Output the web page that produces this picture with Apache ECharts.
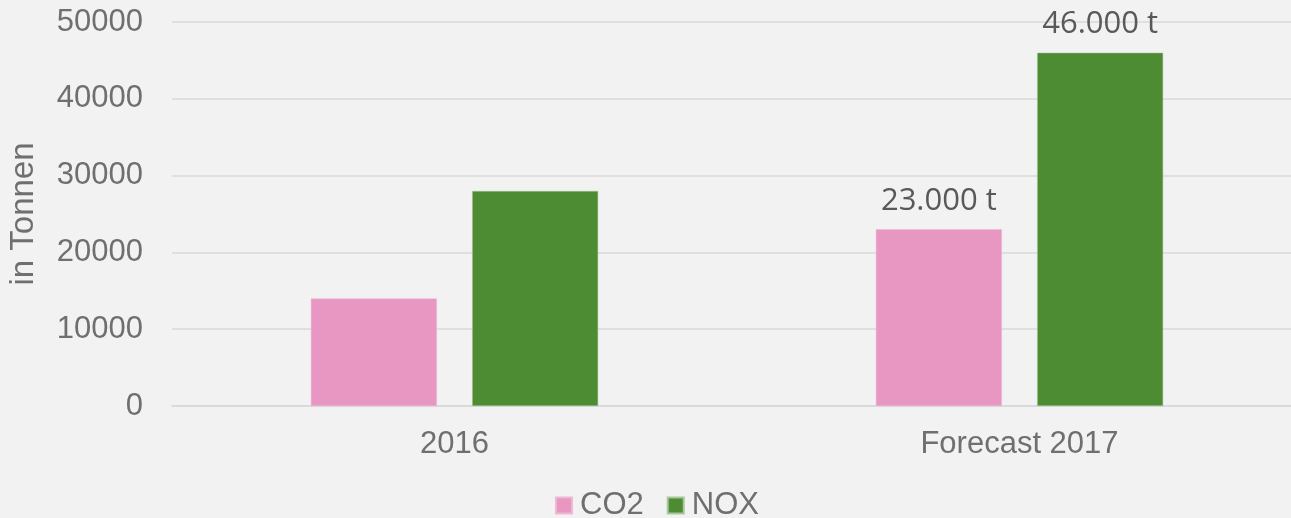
<!DOCTYPE html>
<html><head><meta charset="utf-8">
<script src="https://cdn.jsdelivr.net/npm/echarts@6/dist/echarts.min.js"></script>
<style>html,body{margin:0;padding:0;background:#f2f2f2}#c{width:1291px;height:518px}</style>
</head><body><div id="c"></div>
<script>
const categories = ['2016', 'Forecast 2017'];
const co2 = [14000, 23000];
const nox = [28000, 46000];
const yTicks = { min: 0, max: 50000, interval: 10000 };
const seriesNames = ['CO2', 'NOX'];
const labeledIndex = 1;

function withLabels(arr) {
  return arr.map((v, i) => ({ value: v, label: { show: i === labeledIndex } }));
}
function fmt(v) {
  return String(v).replace(/\B(?=(\d{3})+(?!\d))/g, '.') + ' t';
}
const chart = echarts.init(document.getElementById('c'), null, { renderer: 'canvas' });
const labelCfg = {
  position: 'top', distance: 13,
  fontFamily: 'Open Sans', fontSize: 31, color: '#595959',
  formatter: p => fmt(p.value)
};
chart.setOption({
  backgroundColor: '#f2f2f2',
  animation: false,
  grid: { left: 172, width: 1130, top: 22, bottom: 112, containLabel: false, outerBoundsMode: 'none' },
  legend: {
    top: 485, left: 550, itemWidth: 16, itemHeight: 16, itemGap: 23,
    icon: 'rect',
    textStyle: { fontFamily: 'Liberation Sans', fontSize: 31, color: '#6f6f6f', padding: [0, 0, 0, 3] },
    data: seriesNames
  },
  xAxis: {
    type: 'category', data: categories,
    axisLine: { lineStyle: { color: '#d9d9d9', width: 1.5 } },
    axisTick: { show: false },
    axisLabel: { fontFamily: 'Liberation Sans', fontSize: 31, color: '#6f6f6f', margin: 23 }
  },
  yAxis: {
    type: 'value', min: yTicks.min, max: yTicks.max, interval: yTicks.interval,
    name: 'in Tonnen', nameLocation: 'middle', nameGap: 132, nameRotate: 90,
    nameTextStyle: { fontFamily: 'Liberation Sans', fontSize: 33, color: '#6f6f6f' },
    axisLine: { show: false }, axisTick: { show: false },
    axisLabel: { fontFamily: 'Liberation Sans', fontSize: 31, color: '#6f6f6f', margin: 29, formatter: v => String(v) },
    splitLine: { lineStyle: { color: '#d9d9d9', width: 1.5 } }
  },
  series: [
    { name: seriesNames[0], type: 'bar', data: withLabels(co2), barWidth: 126, barGap: '28%',
      itemStyle: { color: '#e797c1', borderColor: '#eeb8d3', borderWidth: 0.5 }, label: labelCfg },
    { name: seriesNames[1], type: 'bar', data: withLabels(nox), barWidth: 126, barGap: '28%',
      itemStyle: { color: '#4d8c33', borderColor: '#a9c79c', borderWidth: 0.5 }, label: labelCfg }
  ]
});
</script></body></html>
